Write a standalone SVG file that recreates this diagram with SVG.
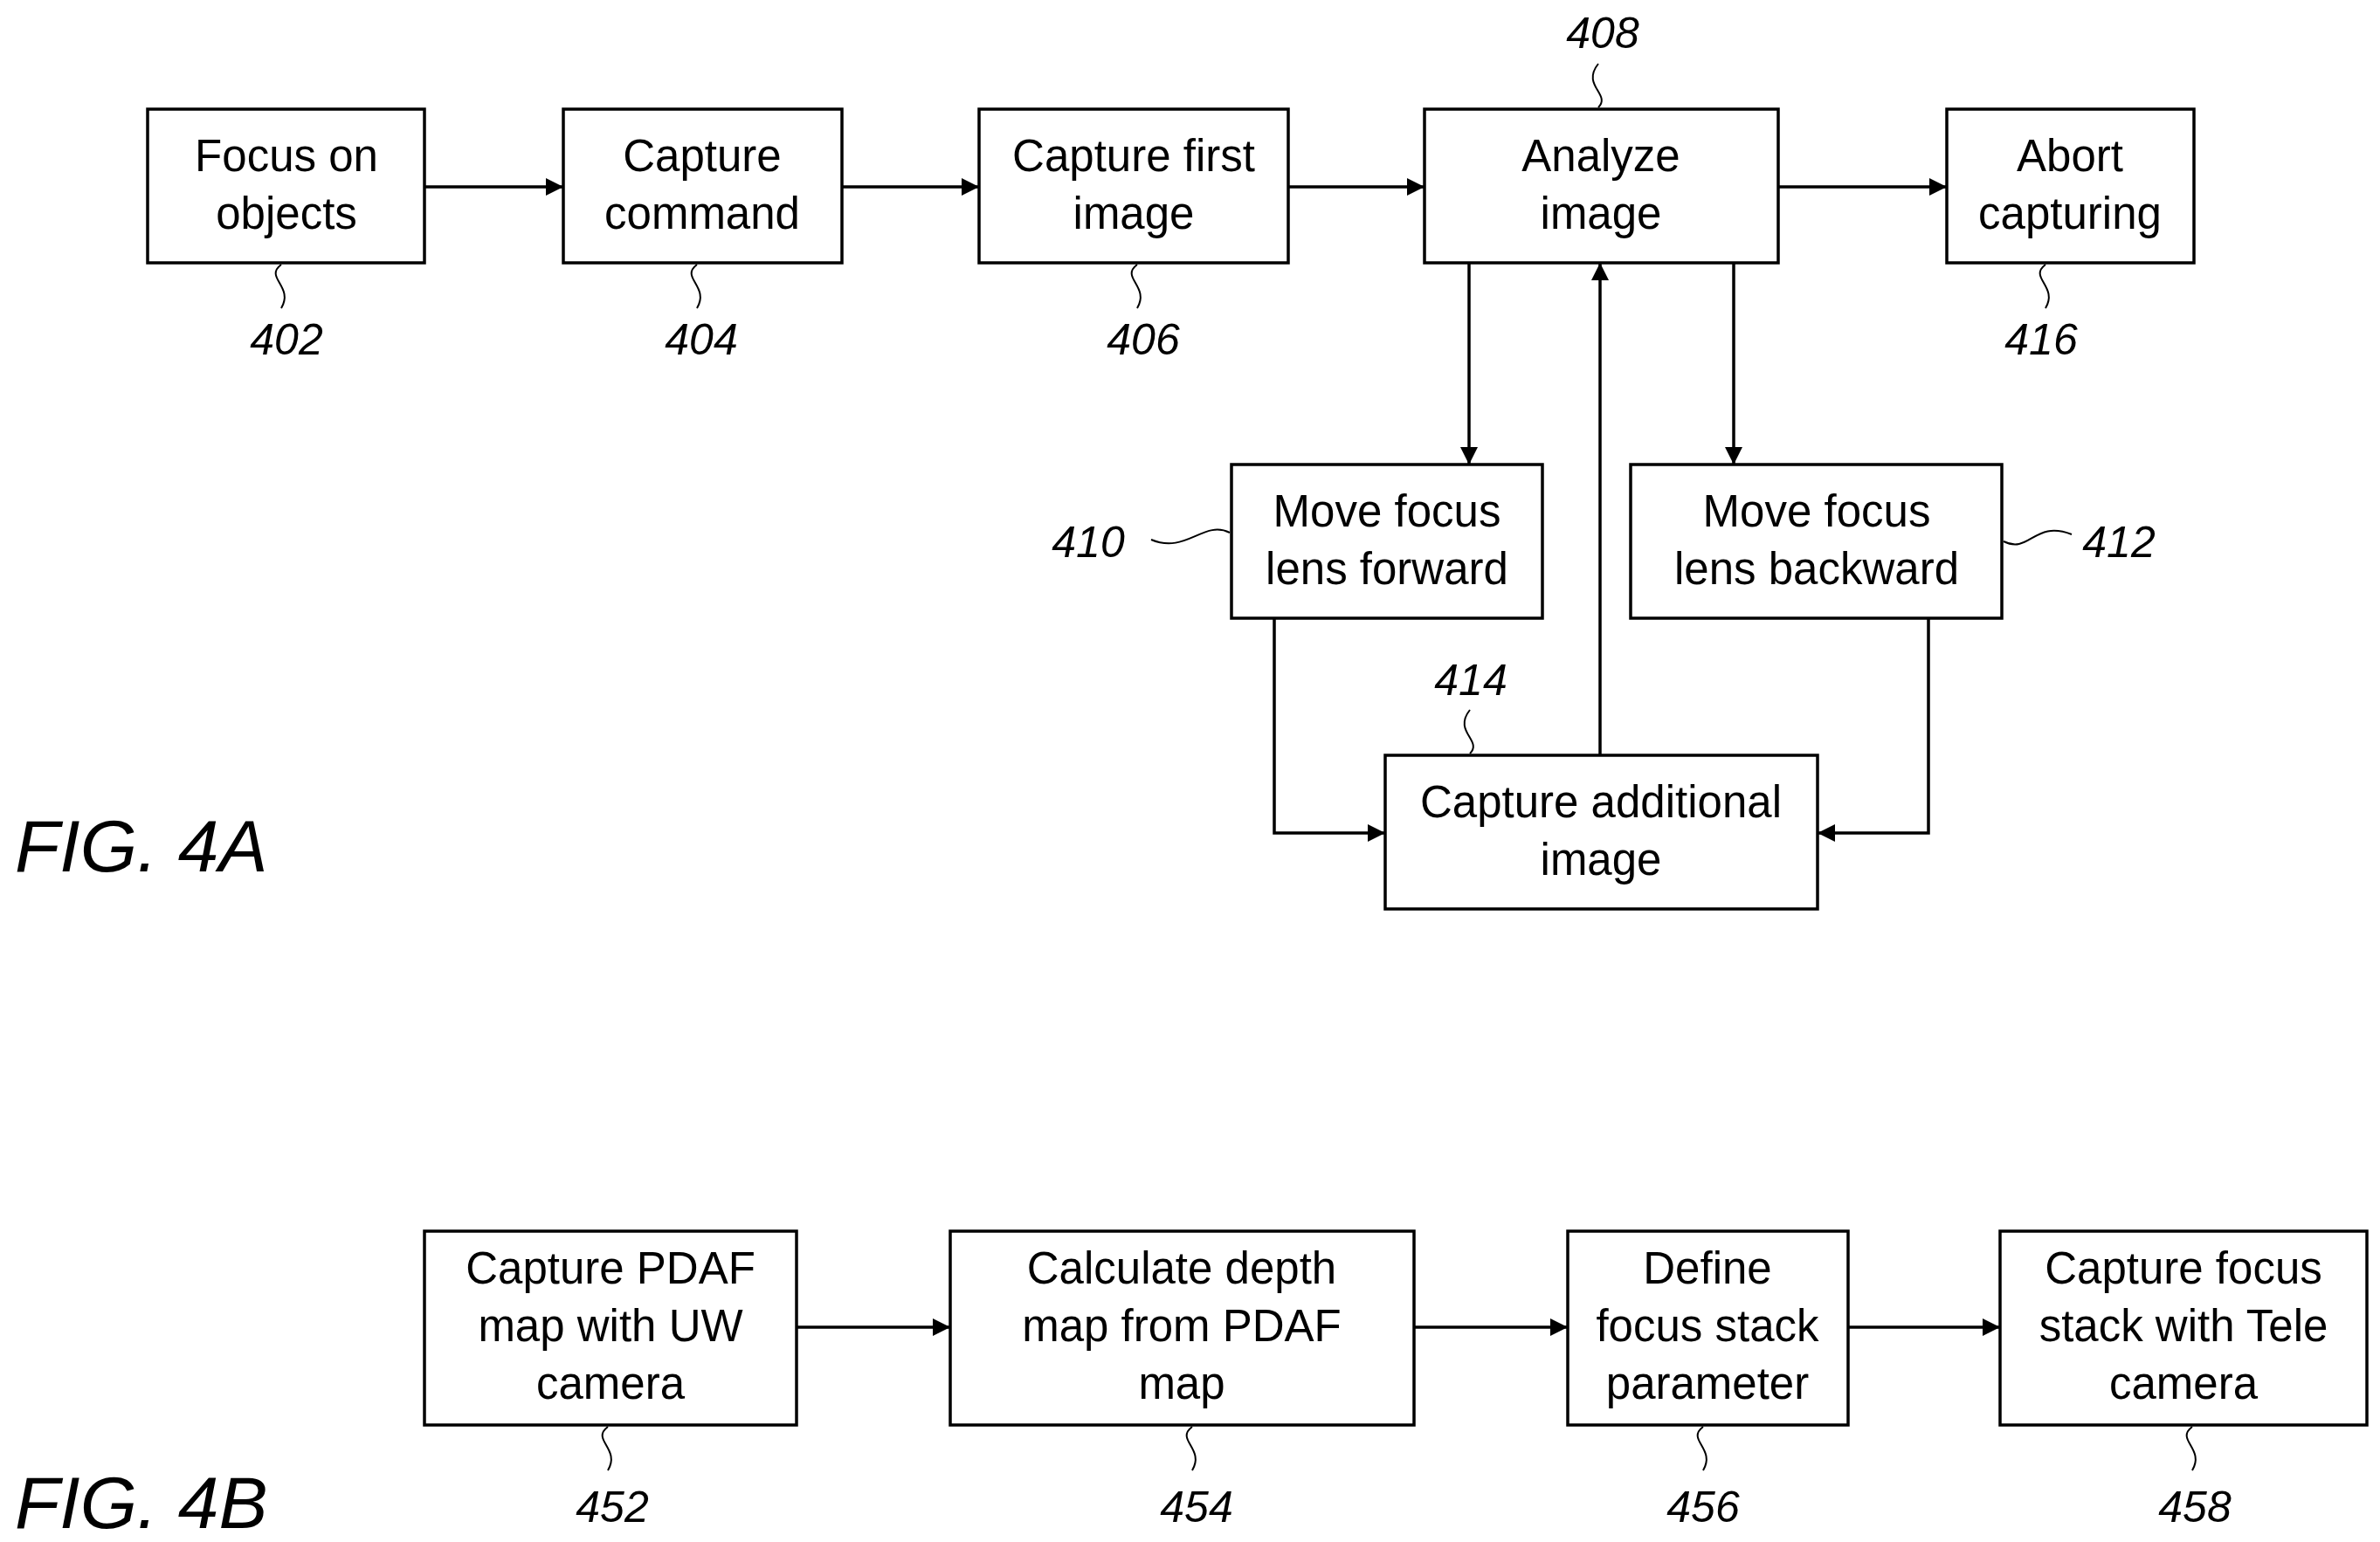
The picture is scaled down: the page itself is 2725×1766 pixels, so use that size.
<svg xmlns="http://www.w3.org/2000/svg" width="2725" height="1766" viewBox="0 0 2725 1766">
<style>
.b{fill:#fff;stroke:#000;stroke-width:3.5}
.t{font-family:"Liberation Sans",Arial,sans-serif;font-size:51px;text-anchor:middle;dominant-baseline:central}
.n{font-family:"Liberation Sans",Arial,sans-serif;font-size:50px;font-style:italic;text-anchor:middle;dominant-baseline:central}
.f{font-family:"Liberation Sans",Arial,sans-serif;font-size:84px;font-style:italic}
.c{fill:none;stroke:#000;stroke-width:3.5}
.s{fill:none;stroke:#000;stroke-width:2}
</style>
<defs><marker id="a" viewBox="0 0 10 10" refX="10" refY="5" markerWidth="8" markerHeight="8" markerUnits="userSpaceOnUse" orient="auto"><path d="M0,0L10,5L0,10z"/></marker>
<marker id="h" viewBox="0 0 10 10" refX="10" refY="5" markerWidth="30" markerHeight="20" markerUnits="userSpaceOnUse" orient="auto"><path d="M0,0L10,5L0,10z"/></marker></defs>
<g id="connectors">
<path class="c" marker-end="url(#h)" d="M486,214H645"/>
<path class="c" marker-end="url(#h)" d="M964,214H1121"/>
<path class="c" marker-end="url(#h)" d="M1475,214H1631"/>
<path class="c" marker-end="url(#h)" d="M2036,214H2229"/>
<path class="c" marker-end="url(#h)" d="M1682,301V532"/>
<path class="c" marker-end="url(#h)" d="M1985,301V532"/>
<path class="c" marker-end="url(#h)" d="M1832,865V301"/>
<path class="c" marker-end="url(#h)" d="M1459,708V954H1586"/>
<path class="c" marker-end="url(#h)" d="M2208,708V954H2081"/>
<path class="c" marker-end="url(#h)" d="M912,1520H1088"/>
<path class="c" marker-end="url(#h)" d="M1619,1520H1795"/>
<path class="c" marker-end="url(#h)" d="M2116,1520H2290"/>
</g>
<g id="n402"><rect class="b" x="169" y="125" width="317" height="176"/><text class="t" x="328" y="178">Focus on</text><text class="t" x="328" y="244">objects</text><path class="s" d="M322,303c-20,15 15,25 0,50"/><text class="n" x="328" y="389">402</text></g>
<g id="n404"><rect class="b" x="645" y="125" width="319" height="176"/><text class="t" x="804" y="178">Capture</text><text class="t" x="804" y="244">command</text><path class="s" d="M798,303c-20,15 15,25 0,50"/><text class="n" x="803" y="389">404</text></g>
<g id="n406"><rect class="b" x="1121" y="125" width="354" height="176"/><text class="t" x="1298" y="178">Capture first</text><text class="t" x="1298" y="244">image</text><path class="s" d="M1302,303c-20,15 15,25 0,50"/><text class="n" x="1309" y="389">406</text></g>
<g id="n408"><rect class="b" x="1631" y="125" width="405" height="176"/><text class="t" x="1833" y="178">Analyze</text><text class="t" x="1833" y="244">image</text><path class="s" d="M1830,123c15,-15 -20,-25 0,-50"/><text class="n" x="1835" y="38">408</text></g>
<g id="n416"><rect class="b" x="2229" y="125" width="283" height="176"/><text class="t" x="2370" y="178">Abort</text><text class="t" x="2370" y="244">capturing</text><path class="s" d="M2342,303c-20,15 15,25 0,50"/><text class="n" x="2337" y="389">416</text></g>
<g id="n410"><rect class="b" x="1410" y="532" width="356" height="176"/><text class="t" x="1588" y="585">Move focus</text><text class="t" x="1588" y="651">lens forward</text><path class="s" d="M1408,610c-30,-15 -50,25 -90,8"/><text class="n" x="1246" y="621">410</text></g>
<g id="n412"><rect class="b" x="1867" y="532" width="425" height="176"/><text class="t" x="2080" y="585">Move focus</text><text class="t" x="2080" y="651">lens backward</text><path class="s" d="M2294,620c30,15 35,-25 78,-8"/><text class="n" x="2426" y="621">412</text></g>
<g id="n414"><rect class="b" x="1586" y="865" width="495" height="176"/><text class="t" x="1833" y="918">Capture additional</text><text class="t" x="1833" y="984">image</text><path class="s" d="M1683,863c15,-15 -20,-25 0,-50"/><text class="n" x="1684" y="779">414</text></g>
<g id="n452"><rect class="b" x="486" y="1410" width="426" height="222"/><text class="t" x="699" y="1452">Capture PDAF</text><text class="t" x="699" y="1518">map with UW</text><text class="t" x="699" y="1584">camera</text><path class="s" d="M696,1634c-20,15 15,25 0,50"/><text class="n" x="701" y="1726">452</text></g>
<g id="n454"><rect class="b" x="1088" y="1410" width="531" height="222"/><text class="t" x="1353" y="1452">Calculate depth</text><text class="t" x="1353" y="1518">map from PDAF</text><text class="t" x="1353" y="1584">map</text><path class="s" d="M1365,1634c-20,15 15,25 0,50"/><text class="n" x="1370" y="1726">454</text></g>
<g id="n456"><rect class="b" x="1795" y="1410" width="321" height="222"/><text class="t" x="1955" y="1452">Define</text><text class="t" x="1955" y="1518">focus stack</text><text class="t" x="1955" y="1584">parameter</text><path class="s" d="M1950,1634c-20,15 15,25 0,50"/><text class="n" x="1950" y="1726">456</text></g>
<g id="n458"><rect class="b" x="2290" y="1410" width="420" height="222"/><text class="t" x="2500" y="1452">Capture focus</text><text class="t" x="2500" y="1518">stack with Tele</text><text class="t" x="2500" y="1584">camera</text><path class="s" d="M2510,1634c-20,15 15,25 0,50"/><text class="n" x="2513" y="1726">458</text></g>
<text class="f" x="17" y="998">FIG. 4A</text>
<text class="f" x="17" y="1750">FIG. 4B</text>
</svg>
